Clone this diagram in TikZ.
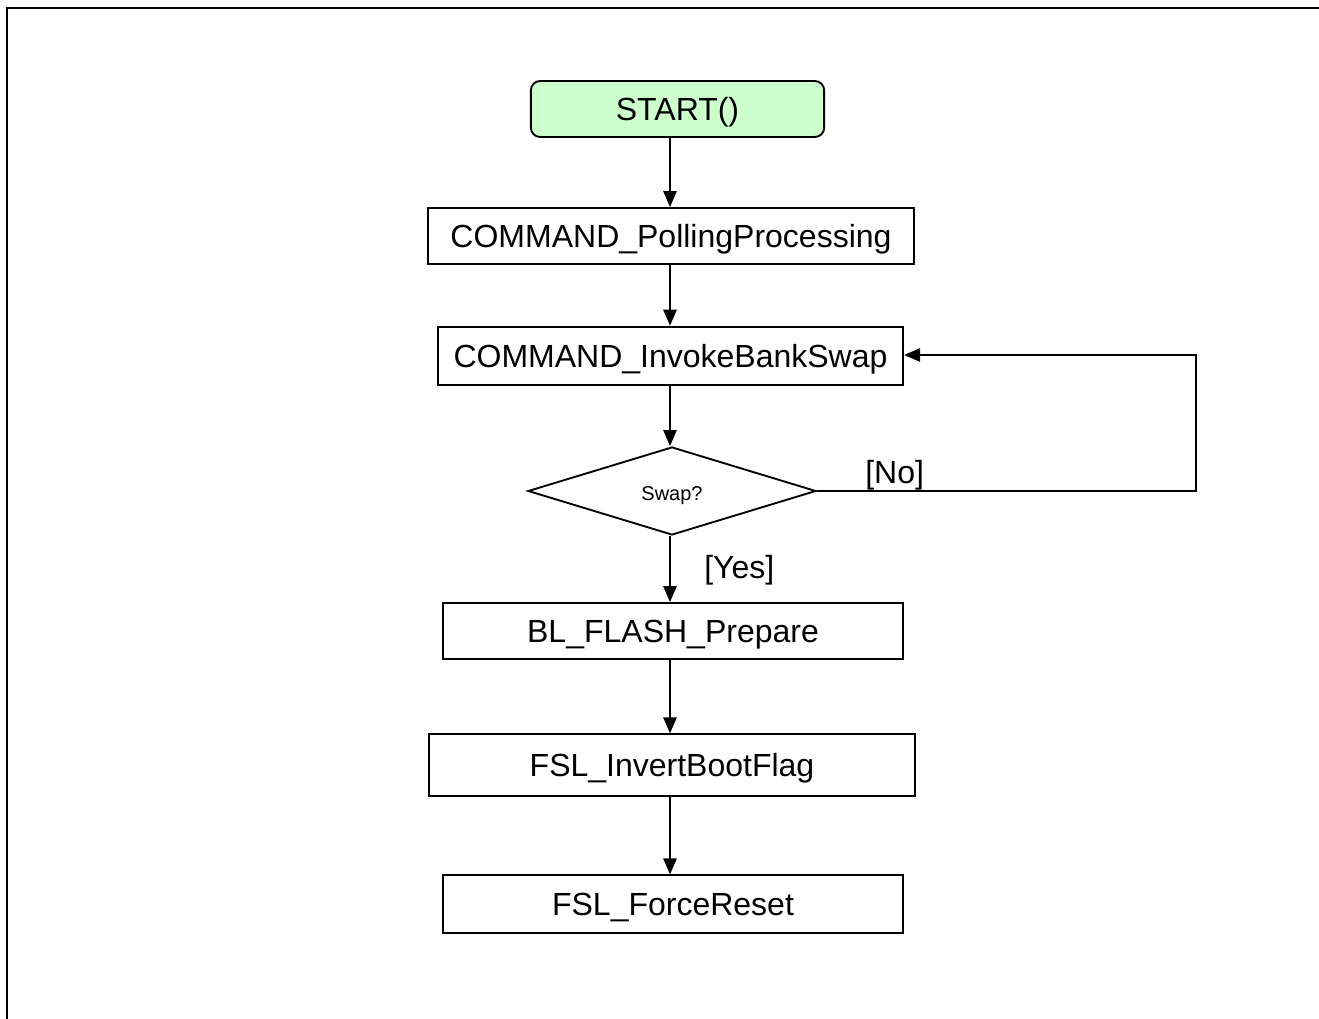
\documentclass[tikz,border=0pt]{standalone}
\usepackage{fontspec}
\setmainfont{Liberation Sans}
\usetikzlibrary{shapes.geometric,arrows.meta}
\begin{document}
\begin{tikzpicture}[x=0.75pt,y=-0.75pt,
  box/.style={draw,line width=1.4pt,minimum height=42pt,inner sep=0pt,text height=17.2pt,text depth=0pt,font=\fontsize{24}{28}\selectfont},
  startbox/.style={box,rounded corners=7pt,fill=startgreen},
  dec/.style={draw,line width=1.4pt,diamond,aspect=3.27,minimum width=216pt,minimum height=66pt,inner sep=0pt,text height=10.8pt,text depth=0pt,font=\fontsize{15}{18}\selectfont},
  flow/.style={line width=1.2pt,-{Triangle[width=10pt,length=12pt]}},
  lbl/.style={font=\fontsize{24}{28}\selectfont,inner sep=0pt}]
\definecolor{startgreen}{RGB}{204,255,204}
\useasboundingbox (0,0) rectangle (1319,1019);
\draw[line width=2pt] (7,1019) -- (7,8) -- (1319,8);
\node[startbox,minimum width=220pt,minimum height=42pt] (start) at (677.5,109) {START()};
\node[box,minimum width=364pt] (poll) at (671,236) {COMMAND\_PollingProcessing};
\node[box,minimum width=349pt,minimum height=44pt] (invoke) at (670.5,356) {COMMAND\_InvokeBankSwap};
\node[dec] (swap) at (672,491) {\raisebox{-2pt}{Swap?}};
\node[box,minimum width=345pt] (prep) at (673,631) {BL\_FLASH\_Prepare};
\node[box,minimum width=365pt,minimum height=46pt] (invert) at (672,765) {FSL\_InvertBootFlag};
\node[box,minimum width=345pt,minimum height=43pt] (reset) at (673,904) {FSL\_ForceReset};
\draw[flow] (start.south -| 670,0) -- (poll.north -| 670,0);
\draw[flow] (poll.south -| 670,0) -- (invoke.north -| 670,0);
\draw[flow] (invoke.south -| 670,0) -- (swap.north -| 670,0);
\draw[flow] (swap.south -| 670,0) -- (prep.north -| 670,0);
\node[lbl,anchor=south west] (yes) at (704,585) {[Yes]};
\draw[flow] (prep.south -| 670,0) -- (invert.north -| 670,0);
\draw[flow] (invert.south -| 670,0) -- (reset.north -| 670,0);
\coordinate (c1) at (1196,491);
\coordinate (c2) at (1196,355);
\draw[flow] (swap.east) -- (c1) -- (c2) -- (invoke.east |- c2);
\node[lbl,anchor=south west] (no) at (865,490) {[No]};
\end{tikzpicture}
\end{document}
